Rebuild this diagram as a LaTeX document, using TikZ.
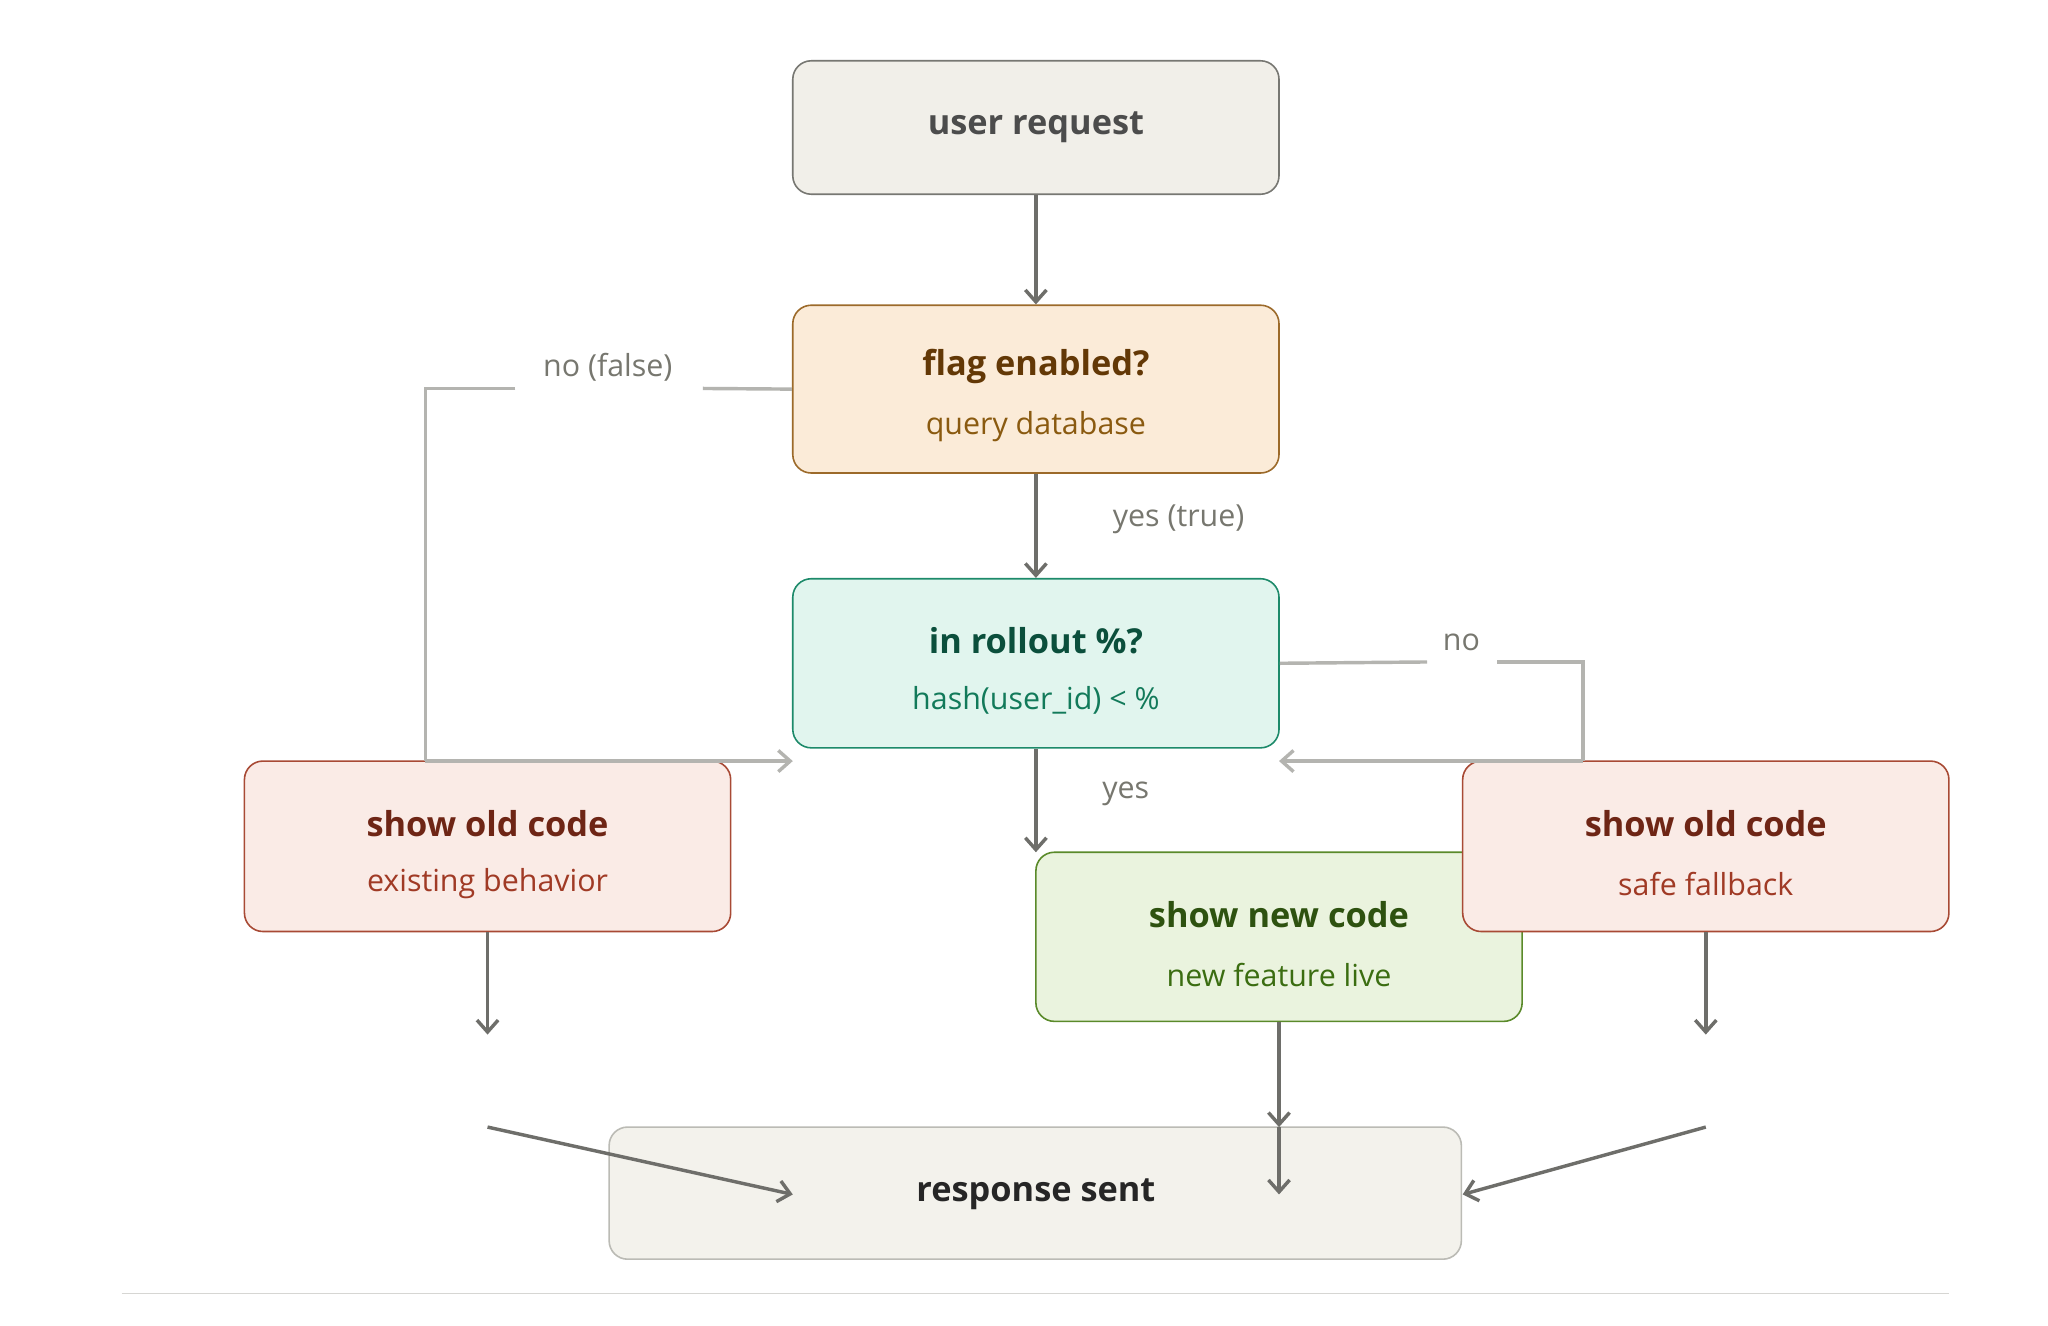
\documentclass[tikz,border=0pt]{standalone}
\usepackage{fontspec}
\setmainfont{Open Sans}
\usetikzlibrary{arrows.meta}
\definecolor{gA}{HTML}{F1EFE9}\definecolor{gB}{HTML}{777772}
\definecolor{oA}{HTML}{FBEBD8}\definecolor{oB}{HTML}{9C6A2A}\definecolor{oT}{HTML}{633806}\definecolor{oS}{HTML}{8A5A10}
\definecolor{tA}{HTML}{E1F5EE}\definecolor{tB}{HTML}{1D8A6A}\definecolor{tT}{HTML}{0B4F3C}\definecolor{tS}{HTML}{127A5A}
\definecolor{rA}{HTML}{FAEBE6}\definecolor{rB}{HTML}{A84A35}\definecolor{rT}{HTML}{6E2515}\definecolor{rS}{HTML}{A03A25}
\definecolor{nA}{HTML}{EAF3DE}\definecolor{nB}{HTML}{5A8A2A}\definecolor{nT}{HTML}{2E5210}\definecolor{nS}{HTML}{3B6D11}
\definecolor{sA}{HTML}{F3F2EC}\definecolor{sB}{HTML}{BBBBB5}
\definecolor{arr}{HTML}{6E6E6A}\definecolor{lgr}{HTML}{B4B4B0}\definecolor{lbl}{HTML}{77776F}
\tikzset{
 x=1pt,y=-1pt,
 box/.style={draw,rounded corners=14pt,line width=1.2pt,minimum width=368pt,inner sep=0pt,align=center},
 ttl/.style={font=\fontsize{26}{30}\selectfont\bfseries},
 sub/.style={font=\fontsize{23}{28}\selectfont},
 lab/.style={font=\fontsize{23}{28}\selectfont,text=lbl},
 a/.style={draw=arr,line width=2.6pt,-{Straight Barb[length=9pt,width=16pt]}},
 g/.style={draw=lgr,line width=2.6pt},
 ga/.style={g,-{Straight Barb[length=9pt,width=16pt]}},
}
\begin{document}
\begin{tikzpicture}
\useasboundingbox[fill=white] (0,0) rectangle (1550,1003);
\draw[draw=sB!60,line width=1pt] (92,979) -- (1475,979);
% nodes
\node[box,fill=gA,draw=gB,minimum height=101pt] (req) at (784,96.5) {\fontsize{26}{30}\selectfont\bfseries\color{black!70}user request};
\node[box,fill=oA,draw=oB,minimum height=127pt] (flag) at (784,294.5) {};
\node[ttl,text=oT] (flagt) at (784,277) {flag enabled?};
\node[sub,text=oS] (flags) at (784,323) {query database};
\node[box,fill=tA,draw=tB,minimum height=128pt] (roll) at (784,502) {};
\node[ttl,text=tT] (rollt) at (784,485) {in rollout \%?};
\node[sub,text=tS] (rolls) at (784,530) {hash(user\_id) < \%};
\node[box,fill=nA,draw=nB,minimum height=128pt] (new) at (968,709) {};
\node[ttl,text=nT] (newt) at (968,692) {show new code};
\node[sub,text=nS] (news) at (968,738) {new feature live};
\node[box,fill=rA,draw=rB,minimum height=129pt] (oldl) at (369,640.5) {};
\node[ttl,text=rT] (oldlt) at (369,623) {show old code};
\node[sub,text=rS] (oldls) at (369,669) {existing behavior};
\node[box,fill=rA,draw=rB,minimum height=129pt] (oldr) at (1291,640.5) {};
\node[ttl,text=rT] (oldrt) at (1291,623) {show old code};
\node[sub,text=rS] (oldrs) at (1291,669) {safe fallback};
\node[box,fill=sA,draw=sB,minimum width=645pt,minimum height=100pt] (resp) at (783.5,903) {};
\node[font=\fontsize{26}{30}\selectfont\bfseries,text=black!85] (respt) at (784,904) {response sent};
% coordinates
\coordinate (fl1) at (322,294); \coordinate (fl2) at (322,576); \coordinate (fl3) at (600,576);
\coordinate (nr1) at (1198,501); \coordinate (nr2) at (1198,576); \coordinate (nr3) at (968,576);
\coordinate (la) at (369,783); \coordinate (ra) at (1291,783);
\coordinate (ls) at (369,853); \coordinate (rs) at (1291,853);
\coordinate (le) at (600,904); \coordinate (re) at (1107,904);
\coordinate (nm) at (968,853); \coordinate (ne) at (968,904);
% connectors
\draw[a] (req.south) -- (flag.north);
\draw[a] (flag.south) -- (roll.north);
\node[lab] (ly) at (892,393) {yes (true)};
\draw[a] (roll.south) -- (784,645);
\node[lab] (ly2) at (852,601) {yes};
\draw[g] (flag.west) -- (532,294);
\draw[g] (390,294) -- (fl1) -- (fl2);
\draw[ga] (fl2) -- (fl3);
\node[lab] (lno) at (460,278) {no (false)};
\draw[g] (roll.east) -- (1080,501);
\draw[g] (1133,501) -- (nr1) -- (nr2);
\draw[ga] (nr2) -- (nr3);
\node[lab] (lno2) at (1106,486) {no};
\draw[a] (oldl.south) -- (la);
\draw[a] (oldr.south) -- (ra);
\draw[a] (ls) -- (le);
\draw[a] (rs) -- (re);
\draw[a] (new.south) -- (nm);
\draw[a] (nm) -- (ne);
\end{tikzpicture}
\end{document}
